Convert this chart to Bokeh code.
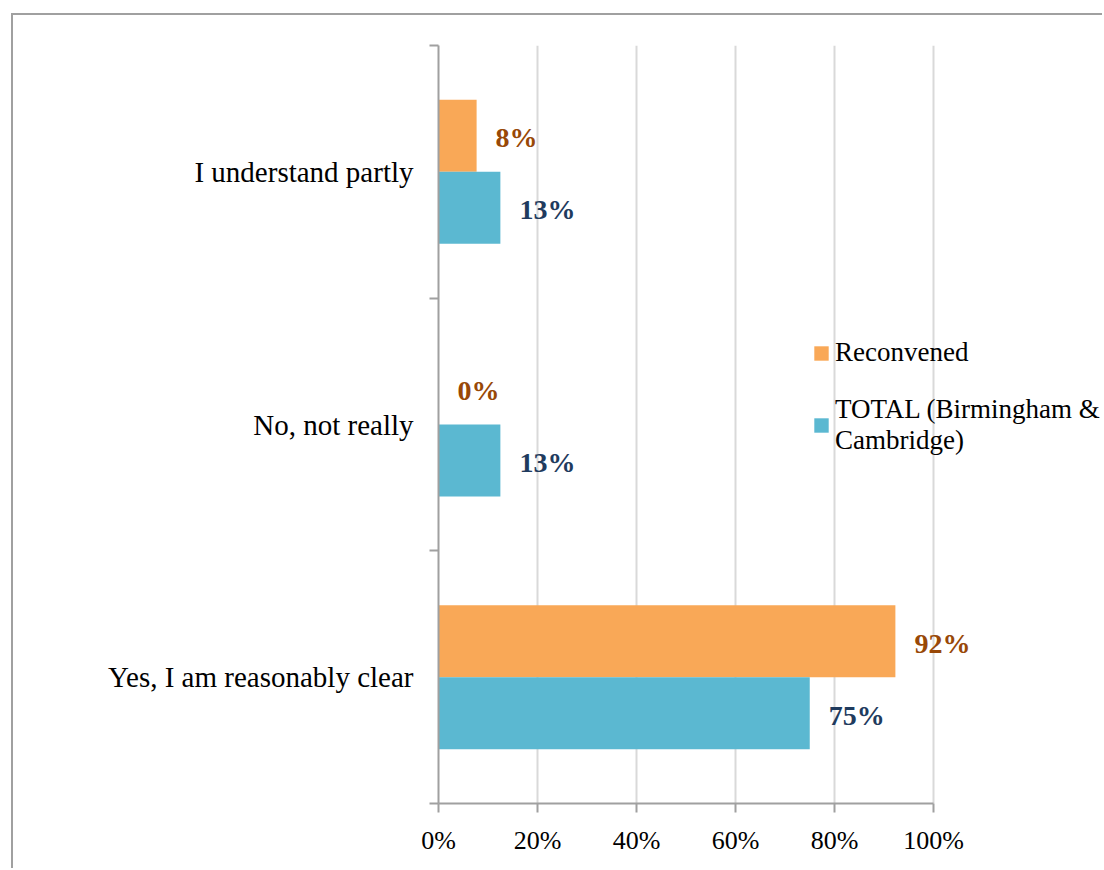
from bokeh.plotting import figure
from bokeh.models import (Range1d, FixedTicker, PrintfTickFormatter, Legend, LegendItem,
                          ColumnDataSource)
from bokeh.core.properties import value
from bokeh.embed import file_html
from bokeh.resources import INLINE

# ---- data (top-to-bottom order) ----
categories = ["I understand partly", "No, not really", "Yes, I am reasonably clear"]
reconvened = [7.7, 0.0, 92.3]
total = [12.5, 12.5, 75.0]
reconvened_labels = ["8%", "0%", "92%"]
total_labels = ["13%", "13%", "75%"]
x_ticks = [0, 20, 40, 60, 80, 100]
series_names = ["Reconvened", "TOTAL (Birmingham &\nCambridge)"]

FONT = "Liberation Serif"
ORANGE = "#F9A857"
TEAL = "#5BB8D1"
ORANGE_TXT = "#984807"
TEAL_TXT = "#1F3B5E"
AXIS = "#A0A0A0"

# layout (screen pixels)
W, H = 1091, 855
LEFT, TOP, BOTTOM = 425, 30, 67
AXIS_PX = 495            # pixel length of 0..100 %
frame_w = W - LEFT
x_end = 100.0 * frame_w / AXIS_PX

n = len(categories)
centers = [n - i - 0.5 for i in range(n)]
bar_h = 0.285
y_rec = [c + bar_h / 2 for c in centers]
y_tot = [c - bar_h / 2 for c in centers]

src_rec = ColumnDataSource(dict(y=y_rec, v=reconvened, lab=reconvened_labels))
src_tot = ColumnDataSource(dict(y=y_tot, v=total, lab=total_labels))

p = figure(width=W, height=H, x_range=Range1d(0, x_end), y_range=Range1d(0, n),
           output_backend="svg", toolbar_location=None,
           min_border_left=LEFT, min_border_right=0, min_border_top=TOP, min_border_bottom=BOTTOM,
           margin=(13, 0, 0, 11))
p.styles = {"border-left": "2px solid #A0A0A0", "border-top": "2px solid #A0A0A0"}
p.outline_line_color = None
p.background_fill_color = "white"
p.border_fill_color = "white"

r1 = p.hbar(y="y", right="v", left=0, height=bar_h, source=src_rec,
            fill_color=ORANGE, line_color=None)
r2 = p.hbar(y="y", right="v", left=0, height=bar_h, source=src_tot,
            fill_color=TEAL, line_color=None)

p.text(x="v", y="y", text="lab", source=src_rec, x_offset=19, y_offset=2, text_align="left",
       text_baseline="middle", text_font=value(FONT), text_font_style="bold",
       text_font_size="28px", text_color=ORANGE_TXT)
p.text(x="v", y="y", text="lab", source=src_tot, x_offset=19, y_offset=2, text_align="left",
       text_baseline="middle", text_font=value(FONT), text_font_style="bold",
       text_font_size="28px", text_color=TEAL_TXT)

# x axis
xa = p.xaxis[0]
xa.bounds = (0, 100)
xa.ticker = FixedTicker(ticks=x_ticks)
xa.formatter = PrintfTickFormatter(format="%d%%")
xa.major_tick_out = 9
xa.major_tick_in = 0
xa.minor_tick_out = 0
xa.minor_tick_in = 0
xa.axis_line_color = AXIS
xa.axis_line_width = 2
xa.major_tick_line_color = AXIS
xa.major_tick_line_width = 2
xa.major_label_text_font = FONT
xa.major_label_text_font_size = "26px"
xa.major_label_text_color = "black"
xa.major_label_standoff = 13

# y axis
ya = p.yaxis[0]
ya.ticker = FixedTicker(ticks=centers, minor_ticks=list(range(n + 1)))
ya.major_label_overrides = {c: lab for c, lab in zip(centers, categories)}
ya.major_tick_out = 0
ya.major_tick_in = 0
ya.minor_tick_out = 9
ya.minor_tick_in = 0
ya.minor_tick_line_color = AXIS
ya.minor_tick_line_width = 2
ya.axis_line_color = AXIS
ya.axis_line_width = 2
ya.major_label_text_font = FONT
ya.major_label_text_font_size = "29px"
ya.major_label_text_color = "black"
ya.major_label_standoff = 16

p.xgrid.ticker = FixedTicker(ticks=x_ticks[1:])
p.xgrid.grid_line_color = "#D9D9D9"
p.xgrid.grid_line_width = 2
p.ygrid.grid_line_color = None

legend = Legend(items=[LegendItem(label=series_names[0], renderers=[r1]),
                       LegendItem(label=series_names[1], renderers=[r2])],
                location=(374, 347), orientation="vertical",
                glyph_width=18, glyph_height=18, label_standoff=5, spacing=26,
                padding=0, margin=0, border_line_color=None, background_fill_alpha=0,
                label_text_font=FONT, label_text_font_size="27px", label_text_color="black")
p.add_layout(legend, "center")

open("out.html", "w").write(file_html(p, INLINE))
